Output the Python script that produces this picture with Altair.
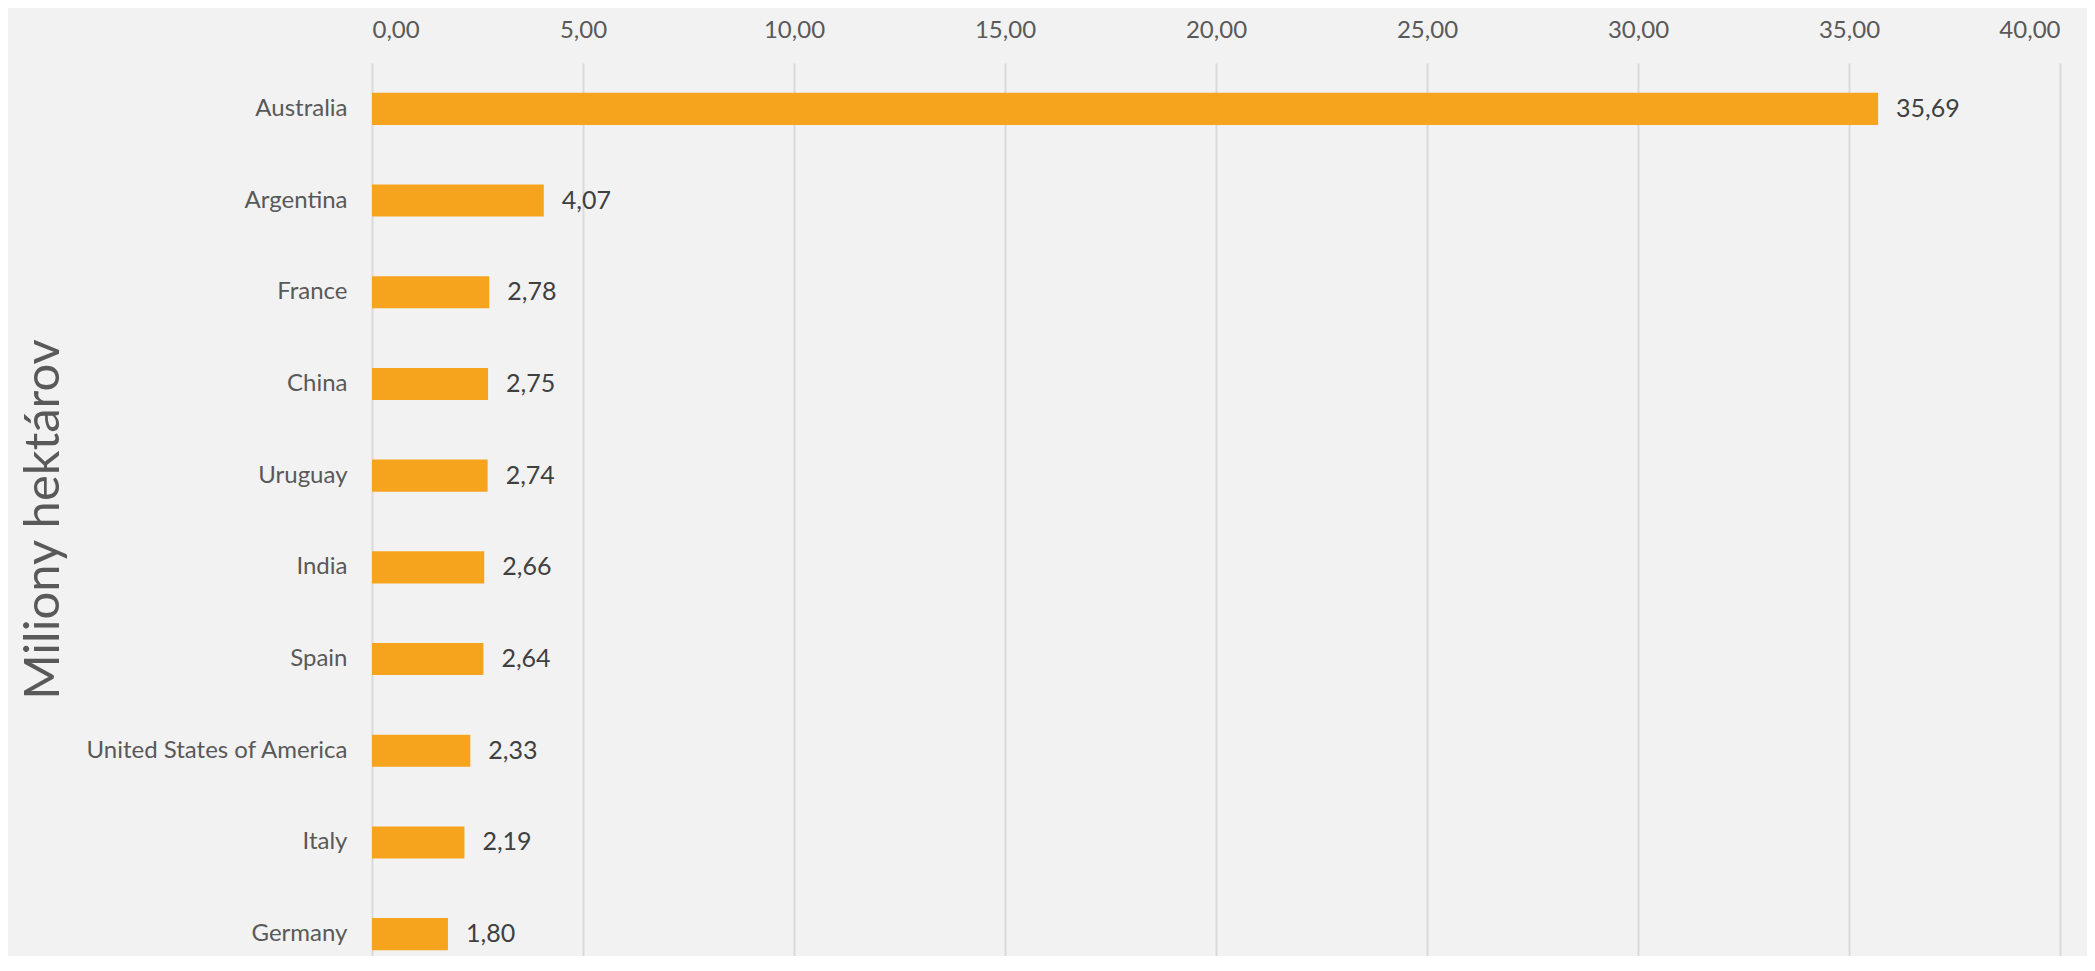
import altair as alt
import pandas as pd

countries = ["Australia", "Argentina", "France", "China", "Uruguay", "India",
             "Spain", "United States of America", "Italy", "Germany"]
values = [35.69, 4.07, 2.78, 2.75, 2.74, 2.66, 2.64, 2.33, 2.19, 1.80]
tick_values = [0, 5, 10, 15, 20, 25, 30, 35, 40]
y_title = "Miliony hektárov"

df = pd.DataFrame({"country": countries, "value": values})
df["label"] = [f"{v:.2f}".replace(".", ",") for v in values]

FONT = "Lato"
base = alt.Chart(df)

x_enc = alt.X("value:Q",
              scale=alt.Scale(domain=[0, 40], nice=False),
              axis=alt.Axis(orient="top", values=tick_values, title=None,
                            labelExpr="replace(format(datum.value, '.2f'), '.', ',')",
                            grid=True, gridColor="#d9d9d9", gridWidth=2,
                            domain=False, ticks=False, tickSize=0,
                            labelFont=FONT, labelFontSize=24, labelColor="#595959",
                            labelPadding=33, labelBaseline="middle"))
y_scale = alt.Scale(paddingInner=0.65, paddingOuter=0.325, range=[0, 917])
y_enc = alt.Y("country:N", sort=countries, scale=y_scale,
              axis=alt.Axis(title=y_title, domain=False, ticks=False, tickSize=0,
                            labelFont=FONT, labelFontSize=24, labelColor="#595959",
                            labelPadding=25, labelLimit=0,
                            titleFont=FONT, titleFontSize=49, titleFontWeight="normal",
                            titleColor="#595959", titleAngle=-90,
                            titleBaseline="alphabetic", titleX=-314, titleY=456))

bars = base.mark_bar(color="#F6A41E").encode(x=x_enc, y=y_enc)
labels = base.mark_text(align="left", baseline="middle", dx=18,
                        font=FONT, fontSize=25, color="#404040").encode(
    x="value:Q", y=alt.Y("country:N", sort=countries, scale=y_scale), text="label:N")

chart = (bars + labels).properties(
    width=1688, height=893,
    background="#f2f2f2",
    autosize=alt.AutoSizeParams(type="none"),
    padding={"left": 364, "top": 55, "right": 27, "bottom": 0},
).configure_view(stroke=None)

chart.save("out.html", embed_options={"renderer": "svg", "actions": False})
